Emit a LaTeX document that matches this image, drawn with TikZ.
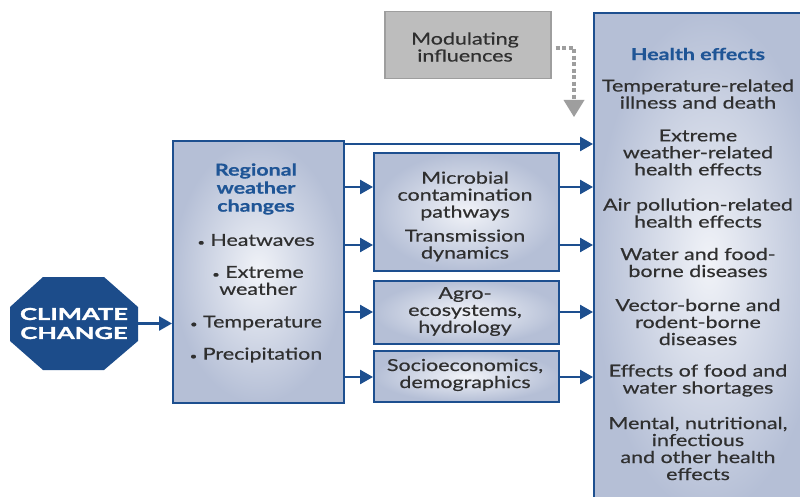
\documentclass[tikz,border=0pt]{standalone}
\usepackage{fontspec}
\setmainfont{Lato}[FakeStretch=1.3, FakeBold=0.5]
\newfontfamily\signfont{Lato}[FakeStretch=1.55, FakeBold=2]
\usetikzlibrary{arrows.meta,positioning}

\definecolor{signblue}{HTML}{1C4C8A}
\definecolor{linkblue}{HTML}{1D4F8F}
\definecolor{headblue}{HTML}{1F5596}
\definecolor{boxedge}{HTML}{B5BFD6}
\definecolor{boxmid}{HTML}{F1F3F8}
\definecolor{txtgray}{HTML}{2F2F2F}
\definecolor{modfill}{HTML}{BDBDBD}
\definecolor{modline}{HTML}{9E9E9E}

\newcommand{\dotbul}{{\fontsize{10}{10}\selectfont\textbullet}\ }

\begin{document}
\begin{tikzpicture}[x=1pt, y=-1pt,
    effbox/.style={draw=linkblue, line width=1.6pt, inner sep=0pt, anchor=north west,
      inner color=boxmid, outer color=boxedge},
    modbox/.style={draw=modline, line width=1.5pt, fill=modfill, anchor=north west},
    bodytext/.style={align=center, text=txtgray, inner sep=0pt,
      font=\fontsize{16.5}{17}\selectfont},
    headtext/.style={bodytext, text=headblue, font=\fontsize{16.5}{18}\selectfont\bfseries},
    signtext/.style={align=center, text=white, inner sep=0pt, minimum width=128pt,
      minimum height=93pt, font=\signfont\fontsize{16.5}{19}\selectfont\bfseries},
    link/.style={draw=linkblue, line width=2.6pt, -{Triangle[length=13pt,width=14pt]}},
    modlink/.style={draw=modline, line width=4pt, dash pattern=on 4pt off 2.5pt,
      -{Triangle[length=17pt,width=21pt,line width=0pt]}}]

    \clip (0,0) rectangle (800,497);
    \fill[white] (0,0) rectangle (800,497);

    % boxes
    \node[modbox, minimum width=166pt, minimum height=67pt] (mod) at (384,11) {};
    \node[effbox, minimum width=171pt, minimum height=262pt] (rwc) at (172,140) {};
    \node[effbox, minimum width=185pt, minimum height=118pt] (m1) at (373,152) {};
    \node[effbox, minimum width=185pt, minimum height=63pt] (m2) at (373,280) {};
    \node[effbox, minimum width=185pt, minimum height=51pt] (m3) at (373,350) {};
    \node[effbox, minimum width=230pt, minimum height=500pt] (hbox) at (593,12) {};

    % climate change sign
    \fill[signblue] (10,307) -- (43,277) -- (104,277) -- (138,307) -- (138,341)
      -- (104,370) -- (43,370) -- (10,341) -- cycle;
    \node[signtext] (cc) at (74,323.5) {CLIMATE\\CHANGE};

    % texts
    \node[bodytext] (modtxt) at (465,47) {Modulating\\influences};

    \node[headtext] (rwchead) at (256,189) {Regional\\weather\\changes};
    \node[bodytext] (heat) at (256,240) {\dotbul Heatwaves};
    \node[bodytext] (xw) at (258,280.5) {\dotbul Extreme\\weather};
    \node[bodytext] (temp) at (256,323) {\dotbul Temperature};
    \node[bodytext] (prec) at (256,355) {\dotbul Precipitation};

    \node[bodytext] (m1a) at (465,196) {Microbial\\contamination\\pathways};
    \node[bodytext] (m1b) at (465,245.5) {Transmission\\dynamics};
    \node[bodytext] (m2a) at (465,311.5) {Agro-\\ecosystems,\\hydrology};
    \node[bodytext] (m3a) at (465,375) {Socioeconomics,\\demographics};

    \node[headtext] (hhead) at (698,54) {Health effects};
    \node[bodytext] (h1) at (698,94) {Temperature-related\\illness and death};
    \node[bodytext] (h2) at (698,152.5) {Extreme\\weather-related\\health effects};
    \node[bodytext] (h3) at (698,213) {Air pollution-related\\health effects};
    \node[bodytext] (h4) at (698,262.5) {Water and food-\\borne diseases};
    \node[bodytext] (h5) at (698,322) {Vector-borne and\\rodent-borne\\diseases};
    \node[bodytext] (h6) at (698,380.5) {Effects of food and\\water shortages};
    \node[bodytext] (h7) at (698,448.5) {Mental, nutritional,\\infectious\\and other health\\effects};

    % arrow levels
    \coordinate (l0) at (0,144);
    \coordinate (l1) at (0,187);
    \coordinate (l2) at (0,245);
    \coordinate (l3) at (0,312);
    \coordinate (l4) at (0,377);
    \coordinate (modtip) at (574,117);

    % connectors
    \draw[link] (cc.east) -- (rwc.west |- cc.east);
    \draw[link] (rwc.east |- l0) -- (hbox.west |- l0);
    \draw[link] (rwc.east |- l1) -- (m1.west |- l1);
    \draw[link] (rwc.east |- l2) -- (m1.west |- l2);
    \draw[link] (rwc.east |- l3) -- (m2.west |- l3);
    \draw[link] (rwc.east |- l4) -- (m3.west |- l4);
    \draw[link] (m1.east |- l1) -- (hbox.west |- l1);
    \draw[link] (m1.east |- l2) -- (hbox.west |- l2);
    \draw[link] (m2.east |- l3) -- (hbox.west |- l3);
    \draw[link] (m3.east |- l4) -- (hbox.west |- l4);
    \draw[modlink] ([xshift=4pt,yshift=-3pt]mod.east) -| (modtip);
\end{tikzpicture}
\end{document}
